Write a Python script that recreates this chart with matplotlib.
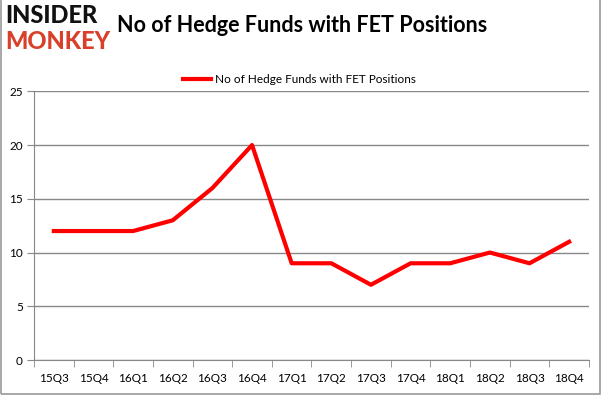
import matplotlib.pyplot as plt
from matplotlib.patches import Rectangle

# Quarters and hedge fund counts
quarters = ['15Q3', '15Q4', '16Q1', '16Q2', '16Q3', '16Q4', '17Q1', '17Q2',
            '17Q3', '17Q4', '18Q1', '18Q2', '18Q3', '18Q4']
funds = [12, 12, 12, 13, 16, 20, 9, 9, 7, 9, 9, 10, 9, 11]
yticks = [0, 5, 10, 15, 20, 25]

plt.rcParams['font.family'] = ['Lato', 'DejaVu Sans']

fig = plt.figure(figsize=(6.01, 3.96), dpi=100)
fig.patches.append(Rectangle((0.001, 0.004), 0.997, 1.2, transform=fig.transFigure,
                             fill=False, edgecolor='#9a9a9a', lw=1.2))

ax = fig.add_axes([0.0566, 0.0909, 0.9234, 0.6785])
x = list(range(len(quarters)))
ax.plot(x, funds, color='#ff0000', lw=3, label='No of Hedge Funds with FET Positions')

ax.set_xlim(-0.5, len(quarters) - 0.5)
ax.set_ylim(0, 25)
ax.set_yticks(yticks)
ax.set_xticks(x)
ax.set_xticklabels(quarters)
ax.set_xticks([i - 0.5 for i in range(len(quarters) + 1)], minor=True)
ax.tick_params(axis='x', which='major', length=0, pad=9, labelsize=8.5)
ax.tick_params(axis='x', which='minor', length=5, color='#888888')
ax.tick_params(axis='y', length=5, color='#888888', labelsize=8.5, pad=3)
ax.grid(axis='y', color='#888888', lw=1)
ax.set_axisbelow(True)
for s in ['top', 'right']:
    ax.spines[s].set_visible(False)
for s in ['left', 'bottom']:
    ax.spines[s].set_color('#888888')

ax.legend(loc='center', bbox_to_anchor=(0.479, 1.045), frameon=False, fontsize=8.5,
          handlelength=2.3, handletextpad=0.4)

fig.text(0.502, 0.935, 'No of Hedge Funds with FET Positions', ha='center', va='center',
         fontsize=15.5, fontweight='bold')
fig.text(0.008, 0.96, 'INSIDER', ha='left', va='center', fontsize=17,
         fontweight='black', color='#111111')
fig.text(0.008, 0.895, 'MONKEY', ha='left', va='center', fontsize=17,
         fontweight='black', color='#d9402b')

fig.savefig('out.png', dpi=100)
